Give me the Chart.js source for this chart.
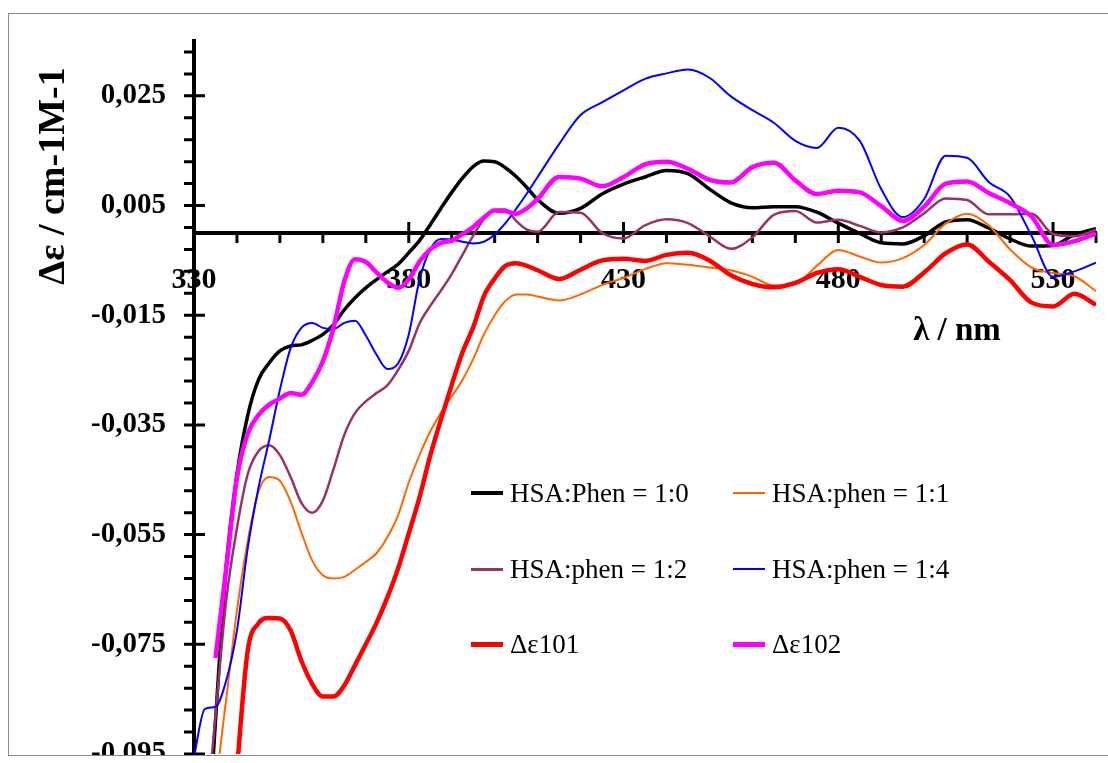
<!DOCTYPE html>
<html>
<head>
<meta charset="utf-8">
<script src="https://cdn.jsdelivr.net/npm/chart.js@4.4.1/dist/chart.umd.min.js"></script>
<style>
  html, body { margin: 0; padding: 0; background: #fff; overflow: hidden; }
  #frame {
    position: absolute; left: 8px; top: 13px; width: 1110px; height: 741px;
    border: 1px solid #8c8c8c; overflow: hidden;
  }
  #chart { position: absolute; left: -9px; top: -14px; }
  .legend-item {
    position: absolute; height: 40px; display: flex; align-items: center;
    white-space: nowrap; font-family: "Liberation Serif", "Times New Roman", serif;
    font-size: 27px; color: #000;
  }
  .legend-swatch { width: 32px; margin-right: 7px; }
</style>
</head>
<body>
<div id="frame">
  <canvas id="chart" width="1108" height="800"></canvas>
</div>
<div id="legend"></div>
<script>
// wavelength, nm
const wavelengths = [
  330, 332.5, 335, 337.5, 340, 342.5, 345, 347.5, 350, 352.5, 355, 357.5, 360,
  362.5, 365, 367.5, 370, 372.5, 375, 377.5, 380, 382.5, 385, 387.5, 390, 392.5,
  395, 397.5, 400, 402.5, 405, 407.5, 410, 415, 420, 425, 430, 435, 440, 445,
  450, 455, 460, 465, 470, 475, 480, 485, 490, 495, 500, 505, 510, 515, 520,
  525, 530, 535, 540,
];

const hsaPhen10 = [
  -0.150, -0.120, -0.089, -0.0608, -0.0440, -0.0333, -0.0268, -0.0237, -0.0215,
  -0.0206, -0.0204, -0.0196, -0.0185, -0.0167, -0.0140, -0.0118, -0.0100, -0.0085,
  -0.0071, -0.0057, -0.0036, -0.0014, 0.0015, 0.0045, 0.0074, 0.0100, 0.0121,
  0.0131, 0.0130, 0.0119, 0.0103, 0.0083, 0.0061, 0.0036, 0.0045, 0.0071, 0.0089,
  0.0102, 0.0114, 0.0108, 0.0080, 0.0055, 0.0046, 0.0048, 0.0048, 0.0038, 0.0018,
  -0.0001, -0.0018, -0.0020, -0.0005, 0.0020, 0.0024, 0.0009, -0.0011, -0.0024,
  -0.0023, -0.0003, 0.0008,
];

const hsaPhen11 = [
  -0.135, -0.118, -0.101, -0.0850, -0.0688, -0.0562, -0.0472, -0.0445, -0.0452,
  -0.0490, -0.0546, -0.0597, -0.0624, -0.0630, -0.0627, -0.0614, -0.0600, -0.0584,
  -0.0555, -0.0515, -0.0455, -0.0405, -0.0362, -0.0328, -0.0298, -0.0268, -0.0230,
  -0.0185, -0.0150, -0.0124, -0.0112, -0.0112, -0.0116, -0.0123, -0.0112, -0.0095,
  -0.0082, -0.0066, -0.0055, -0.0058, -0.0063, -0.0068, -0.0080, -0.0096, -0.0093,
  -0.0060, -0.0031, -0.0043, -0.0054, -0.0046, -0.0022, 0.0017, 0.0035, 0.0014,
  -0.0030, -0.0063, -0.0073, -0.0079, -0.0106,
];

const hsaPhen12 = [
  -0.135, -0.110, -0.0880, -0.0670, -0.0538, -0.0440, -0.0398, -0.0387, -0.0405,
  -0.0445, -0.0492, -0.0510, -0.0488, -0.0430, -0.0368, -0.0328, -0.0307, -0.0292,
  -0.0278, -0.0250, -0.0215, -0.0165, -0.0133, -0.0105, -0.0075, -0.0040, -0.0005,
  0.0025, 0.0042, 0.0043, 0.0022, 0.0006, 0.0002, 0.0038, 0.0037, 0.0000, -0.0010,
  0.0014, 0.0025, 0.0018, -0.0006, -0.0029, -0.0008, 0.0033, 0.0040, 0.0019,
  0.0024, 0.0013, 0.0001, 0.0010, 0.0036, 0.0063, 0.0060, 0.0034, 0.0034, 0.0035,
  -0.0002, -0.0006, 0.0006,
];

const hsaPhen14 = [
  -0.0955, -0.0868, -0.0864, -0.0816, -0.0725, -0.0575, -0.0465, -0.0378, -0.0286,
  -0.0210, -0.0173, -0.0164, -0.0173, -0.0175, -0.0164, -0.0160, -0.0187, -0.0222,
  -0.0248, -0.0238, -0.0185, -0.0085, -0.0030, -0.0011, -0.0012, -0.0016, -0.0019,
  -0.0016, -0.0003, 0.0018, 0.0044, 0.0072, 0.0102, 0.0162, 0.0215, 0.0238,
  0.0260, 0.0281, 0.0291, 0.0298, 0.0283, 0.0249, 0.0224, 0.0201, 0.0168, 0.0155,
  0.0192, 0.0168, 0.0080, 0.0029, 0.0062, 0.0141, 0.0137, 0.0093, 0.0066,
  -0.0005, -0.0080, -0.0070, -0.0054,
];

const deltaEps101 = [
  null, null, -0.160, -0.125, -0.098, -0.0762, -0.0712, -0.0702, -0.0703,
  -0.0725, -0.0780, -0.0822, -0.0845, -0.0845, -0.0825, -0.0788, -0.0750, -0.0711,
  -0.0665, -0.0612, -0.0548, -0.0482, -0.0406, -0.0340, -0.0277, -0.0218, -0.0172,
  -0.0115, -0.0083, -0.0060, -0.0055, -0.0060, -0.0068, -0.0084, -0.0067, -0.0050,
  -0.0047, -0.0051, -0.0040, -0.0036, -0.0050, -0.0077, -0.0093, -0.0099, -0.0091,
  -0.0073, -0.0066, -0.0080, -0.0095, -0.0098, -0.0072, -0.0037, -0.0021, -0.0052,
  -0.0086, -0.0127, -0.0134, -0.0111, -0.0131,
];

const deltaEps102 = [
  null, null, -0.0775, -0.0612, -0.0447, -0.0366, -0.0332, -0.0313, -0.0302,
  -0.0292, -0.0295, -0.0272, -0.0234, -0.0172, -0.0088, -0.0048, -0.0053, -0.0072,
  -0.0090, -0.0100, -0.0085, -0.0052, -0.0030, -0.0018, -0.0014, -0.0002, 0.0011,
  0.0028, 0.0041, 0.0040, 0.0035, 0.0045, 0.0062, 0.0102, 0.0099, 0.0085, 0.0102,
  0.0125, 0.0130, 0.0117, 0.0097, 0.0092, 0.0120, 0.0128, 0.0096, 0.0071, 0.0077,
  0.0074, 0.0049, 0.0022, 0.0048, 0.0090, 0.0094, 0.0073, 0.0054, 0.0030,
  -0.0022, -0.0015, -0.0001,
];

const seriesLabels = [
  "HSA:Phen = 1:0", "HSA:phen = 1:1", "HSA:phen = 1:2",
  "HSA:phen = 1:4", "Δε101", "Δε102",
];
const seriesValues = [hsaPhen10, hsaPhen11, hsaPhen12, hsaPhen14, deltaEps101, deltaEps102];
const seriesColors = ["#000000", "#ff6600", "#993366", "#0000ff", "#ff0000", "#ff00ff"];
const seriesWidths = [3.5, 2, 2.5, 2, 4.5, 4.5];

const xTickValues = [330, 380, 430, 480, 530];
const yTickValues = [-0.095, -0.075, -0.055, -0.035, -0.015, 0.005, 0.025];

const FONT = "'Liberation Serif', 'Times New Roman', serif";

const axisDecor = {
  id: "axisDecor",
  beforeDatasetsDraw(chart) {
    const { ctx, chartArea } = chart;
    const x = chart.scales.x;
    const y = chart.scales.y;
    const left = chartArea.left;
    const yZero = y.getPixelForValue(0);
    ctx.save();
    ctx.strokeStyle = "#000";
    ctx.lineWidth = 3;
    ctx.beginPath();
    for (let i = 0; i <= 32; i++) {
      const py = y.getPixelForValue(-0.095 + i * 0.004);
      ctx.moveTo(left - 10, py);
      ctx.lineTo(i % 5 === 0 ? left + 11 : left, py);
    }
    for (let i = 1; i <= 21; i++) {
      const px = x.getPixelForValue(330 + i * 10);
      ctx.moveTo(px, i % 5 === 0 ? yZero - 11 : yZero);
      ctx.lineTo(px, yZero + 10);
    }
    ctx.stroke();
    ctx.restore();
  },
  afterDraw(chart) {
    const { ctx } = chart;
    ctx.save();
    ctx.fillStyle = "#000";
    ctx.textAlign = "center";
    ctx.textBaseline = "middle";
    ctx.font = "bold 33px " + FONT;
    ctx.fillText("λ / nm", 957, 331);
    ctx.translate(54, 176);
    ctx.rotate(-Math.PI / 2);
    ctx.font = "bold 38px " + FONT;
    ctx.fillText("Δε / cm-1M-1", 0, 0);
    ctx.restore();
  },
};

const chart = new Chart(document.getElementById("chart"), {
  type: "line",
  data: {
    datasets: seriesValues.map((values, i) => ({
      label: seriesLabels[i],
      data: values.map((v, j) => ({ x: wavelengths[j], y: v })),
      borderColor: seriesColors[i],
      borderWidth: seriesWidths[i],
      pointRadius: 0,
      fill: false,
      cubicInterpolationMode: "monotone",
      order: seriesValues.length - i,
    })),
  },
  options: {
    responsive: false,
    animation: false,
    layout: { padding: { left: 0, top: 41, right: 12, bottom: 46 } },
    plugins: { legend: { display: false }, tooltip: { enabled: false } },
    scales: {
      x: {
        type: "linear",
        position: { y: 0 },
        min: 330,
        max: 540,
        grid: { display: false, drawTicks: false },
        border: { display: true, color: "#000", width: 4 },
        afterBuildTicks: (s) => { s.ticks = xTickValues.map((v) => ({ value: v })); },
        ticks: {
          autoSkip: false,
          maxRotation: 0,
          padding: 29,
          color: "#000",
          font: { family: FONT, size: 30, weight: "bold" },
          callback: (v) => String(v),
        },
      },
      y: {
        type: "linear",
        position: "left",
        min: -0.095,
        max: 0.035,
        grid: { display: false, drawTicks: false },
        border: { display: true, color: "#000", width: 4 },
        afterBuildTicks: (s) => { s.ticks = yTickValues.map((v) => ({ value: v })); },
        afterFit: (s) => {
          s.width = 194;
          s.paddingTop = 0;
          s.paddingBottom = 0;
        },
        ticks: {
          padding: 28,
          color: "#000",
          font: { family: FONT, size: 29, weight: "bold" },
          callback: (v) => v.toFixed(3).replace(".", ","),
        },
      },
    },
  },
  plugins: [axisDecor],
});

// legend, two columns inside the plot
const legendCols = [471, 733];
const legendRows = [493, 569, 644];
const legendEl = document.getElementById("legend");
chart.data.datasets.forEach((ds, i) => {
  const item = document.createElement("div");
  item.className = "legend-item";
  item.style.left = legendCols[i % 2] + "px";
  item.style.top = legendRows[Math.floor(i / 2)] - 20 + "px";
  const swatch = document.createElement("span");
  swatch.className = "legend-swatch";
  swatch.style.height = Math.max(2, Math.round(ds.borderWidth)) + "px";
  swatch.style.background = ds.borderColor;
  const text = document.createElement("span");
  text.textContent = ds.label;
  item.appendChild(swatch);
  item.appendChild(text);
  legendEl.appendChild(item);
});
</script>
</body>
</html>
